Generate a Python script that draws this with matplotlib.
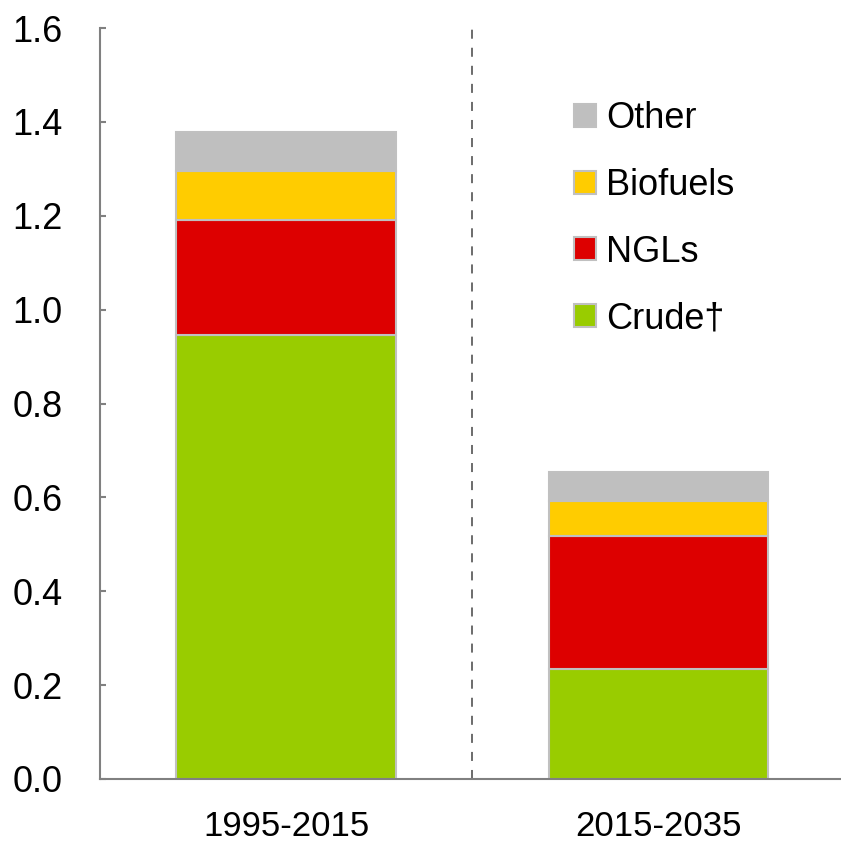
import matplotlib
matplotlib.use('Agg')
import matplotlib.pyplot as plt
from matplotlib.patches import Patch
import numpy as np

# chart data
periods = ['1995-2015', '2015-2035']
crude = [0.945, 0.234]
ngls = [0.246, 0.283]
biofuels = [0.105, 0.075]
other = [0.083, 0.062]

series = [('Crude\u2020', crude, '#99cc00'),
          ('NGLs', ngls, '#dd0000'),
          ('Biofuels', biofuels, '#ffcc00'),
          ('Other', other, '#bfbfbf')]

plt.rcParams['font.family'] = ['Liberation Sans', 'DejaVu Sans']

fig = plt.figure(figsize=(8.41, 8.42), dpi=100)
ax = fig.add_axes([100/841, 63/842, 741/841, 751/842])

x = np.arange(len(periods))
bottom = np.zeros(len(periods))
for name, vals, col in series:
    ax.bar(x, vals, width=0.59, bottom=bottom, color=col,
           edgecolor='#c0c0c0', linewidth=1.5, label=name)
    bottom += np.array(vals)

ax.axvline(0.5, color='#606060', linestyle=(0, (5, 5)), linewidth=1.3)

ax.set_xlim(-0.5, 1.49)
ax.set_ylim(0, 1.6)
ax.set_yticks(np.arange(0, 1.61, 0.2))
ax.set_yticklabels([f'{v:.1f}' for v in np.arange(0, 1.61, 0.2)])
ax.set_xticks(x)
ax.set_xticklabels(periods)

for s in ['top', 'right']:
    ax.spines[s].set_visible(False)
for s in ['left', 'bottom']:
    ax.spines[s].set_color('#808080')
    ax.spines[s].set_linewidth(1.5)

ax.tick_params(axis='y', direction='in', length=4, color='#808080', width=1.5,
               labelsize=26, pad=27)
ax.tick_params(axis='x', length=0, labelsize=25, pad=22)

handles = [Patch(facecolor=c, edgecolor='#c0c0c0', linewidth=1.5) for _, _, c in series][::-1]
labels = [n for n, _, _ in series][::-1]
ax.legend(handles, labels, loc='upper left', bbox_to_anchor=(0.62, 0.922),
          frameon=False, prop={'size': 26},
          handlelength=0.6, handleheight=0.6, handletextpad=0.3, labelspacing=0.88,
          borderaxespad=0)

fig.savefig('out.png', dpi=100)
